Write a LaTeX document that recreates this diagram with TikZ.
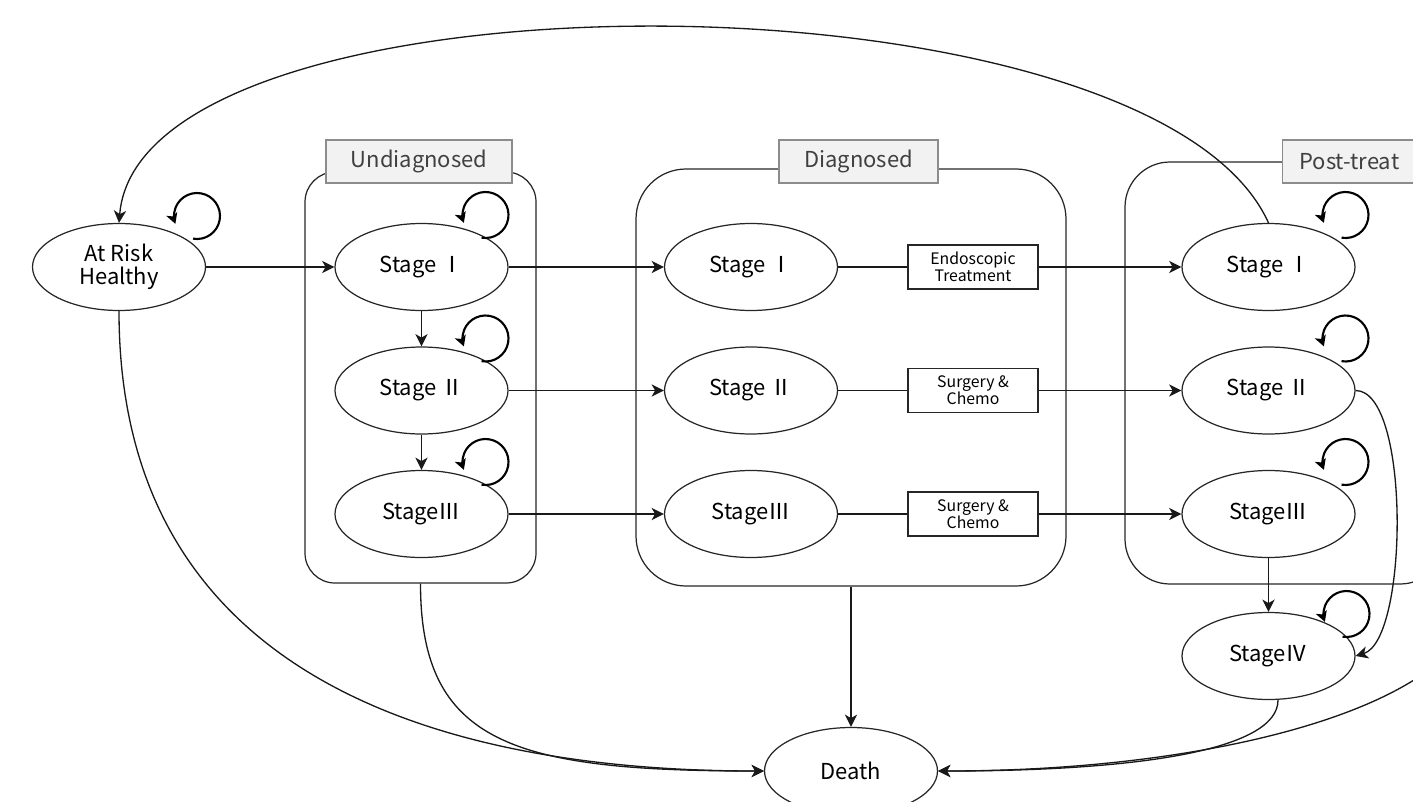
\documentclass[tikz,border=0pt]{standalone}
\usepackage{fontspec}
\setmainfont{Noto Sans CJK KR}
\usetikzlibrary{shapes.geometric, positioning, arrows.meta}

\tikzset{
  state/.style={ellipse, draw=black!85, line width=0.7pt, minimum width=3.46cm, minimum height=1.74cm, inner sep=0pt, align=center, font=\fontsize{12.5}{13}\selectfont},
  treat/.style={rectangle, draw=black!85, line width=0.7pt, minimum width=2.6cm, minimum height=0.88cm, inner sep=0pt, align=center, font=\fontsize{9}{9.6}\selectfont},
  frame/.style={rectangle, draw=black!85, line width=0.7pt},
  tag/.style={rectangle, draw=black!45, fill=black!5, line width=0.6pt, minimum height=0.86cm, inner sep=0pt, font=\fontsize{12.5}{13}\selectfont, text=black!75},
  link/.style={draw=black!90, line width=0.75pt, -{Stealth[length=7pt,width=7pt,inset=2pt]}},
  selfloop/.style={line width=1.2pt, -{Stealth[length=6pt,width=6.5pt,inset=1.5pt]}}
}

\begin{document}
\begin{tikzpicture}
    \useasboundingbox (0,0) rectangle (28.26,-16.02);
    \clip (0,0) rectangle (28.26,-16.02);

    % groups
    \node[frame, rounded corners=0.6cm, minimum width=4.62cm, minimum height=8.22cm] (undiag) at (8.41,-7.55) {};
    \node[frame, rounded corners=1cm, minimum width=8.6cm, minimum height=8.34cm] (diag) at (17.02,-7.55) {};
    \node[frame, rounded corners=0.9cm, minimum width=6.4cm, minimum height=8.44cm] (post) at (25.7,-7.46) {};
    \node[tag, minimum width=3.72cm] (undiagtag) at (8.38,-3.23) {Undiagnosed};
    \node[tag, minimum width=3.18cm] (diagtag) at (17.17,-3.23) {Diagnosed};
    \node[tag, anchor=west, text width=3.5cm, align=left, inner xsep=0.34cm] (posttag) at (25.64,-3.23) {Post-treat};

    % states
    \node[state] (ar) at (2.38,-5.34) {At Risk\\Healthy};
    \node[state] (u1) at (8.43,-5.34) {Stage Ⅰ};
    \node[state, node distance=2.47cm, below of=u1] (u2) {Stage Ⅱ};
    \node[state, node distance=2.47cm, below of=u2] (u3) {StageⅢ};
    \node[state] (d1) at (15.02,-5.34) {Stage Ⅰ};
    \node[state, node distance=2.47cm, below of=d1] (d2) {Stage Ⅱ};
    \node[state, node distance=2.47cm, below of=d2] (d3) {StageⅢ};
    \node[treat] (t1) at (19.46,-5.34) {Endoscopic\\Treatment};
    \node[treat, node distance=2.47cm, below of=t1] (t2) {Surgery \&\\Chemo};
    \node[treat, node distance=2.47cm, below of=t2] (t3) {Surgery \&\\Chemo};
    \node[state] (p1) at (25.37,-5.34) {Stage Ⅰ};
    \node[state, node distance=2.47cm, below of=p1] (p2) {Stage Ⅱ};
    \node[state, node distance=2.47cm, below of=p2] (p3) {StageⅢ};
    \node[state, node distance=2.84cm, below of=p3] (p4) {StageⅣ};
    \node[state] (death) at (17.02,-15.42) {Death};
    \coordinate (offright) at (29.2,-12.8);

    % self loops
    \draw[selfloop] ([shift={(1.56,1.02)}]ar.center) ++(-100:0.46) arc[start angle=-100, end angle=200, radius=0.46];
    \draw[selfloop] ([shift={(1.28,1.04)}]u1.center) ++(-100:0.46) arc[start angle=-100, end angle=200, radius=0.46];
    \draw[selfloop] ([shift={(1.28,1.04)}]u2.center) ++(-100:0.46) arc[start angle=-100, end angle=200, radius=0.46];
    \draw[selfloop] ([shift={(1.28,1.04)}]u3.center) ++(-100:0.46) arc[start angle=-100, end angle=200, radius=0.46];
    \draw[selfloop] ([shift={(1.54,1.04)}]p1.center) ++(-100:0.46) arc[start angle=-100, end angle=200, radius=0.46];
    \draw[selfloop] ([shift={(1.54,1.04)}]p2.center) ++(-100:0.46) arc[start angle=-100, end angle=200, radius=0.46];
    \draw[selfloop] ([shift={(1.54,1.04)}]p3.center) ++(-100:0.46) arc[start angle=-100, end angle=200, radius=0.46];
    \draw[selfloop] ([shift={(1.56,0.84)}]p4.center) ++(-100:0.46) arc[start angle=-100, end angle=200, radius=0.46];

    % transitions
    \draw[link] (ar) -- (u1);
    \draw[link] (u1) -- (d1);
    \draw[link] (u2) -- (d2);
    \draw[link] (u3) -- (d3);
    \draw[link] (u1) -- (u2);
    \draw[link] (u2) -- (u3);
    \draw[black!90, line width=0.75pt] (d1) -- (t1);
    \draw[black!90, line width=0.75pt] (d2) -- (t2);
    \draw[black!90, line width=0.75pt] (d3) -- (t3);
    \draw[link] (t1) -- (p1);
    \draw[link] (t2) -- (p2);
    \draw[link] (t3) -- (p3);
    \draw[link] (p3) -- (p4);
    \draw[link] (p2.east) .. controls +(1.1,0) and +(1.06,0.32) .. (p4.east);
    \draw[link] (p1.north) .. controls +(-2.36,5.22) and +(0.42,5.22) .. (ar.north);

    % to death
    \draw[link] (ar.south) .. controls +(0,-7.6) and +(-6,0) .. (death.west);
    \draw[link] (undiag.south) .. controls +(0,-3.2) and +(-5,0) .. (death.west);
    \draw[link] (diag.south) -- (death.north);
    \draw[link] ([xshift=0.19cm]p4.south) .. controls +(0,-1) and +(4,0) .. (death.east);
    \draw[link] (offright) .. controls +(-1.2,-1.6) and +(5,0) .. (death.east);
\end{tikzpicture}
\end{document}
